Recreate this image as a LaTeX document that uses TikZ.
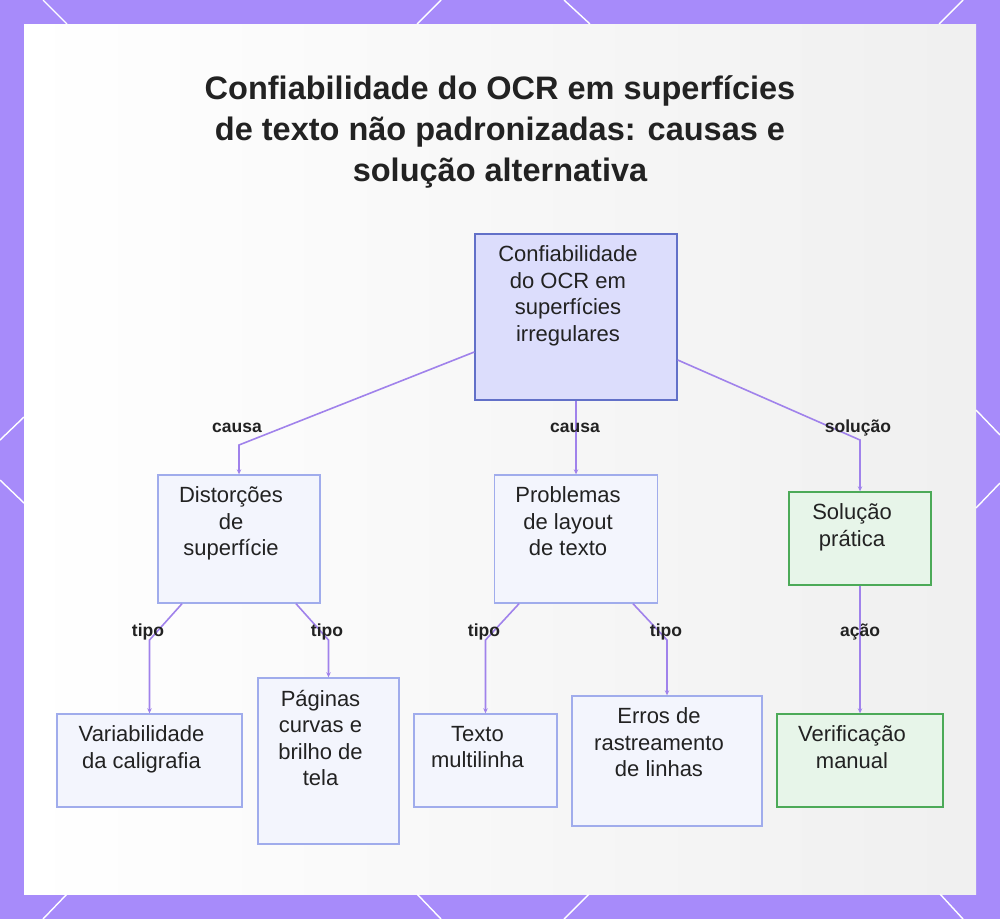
\documentclass[tikz,border=0pt]{standalone}
\usepackage{fontspec}
\setmainfont{Liberation Sans}
\usetikzlibrary{arrows.meta,positioning}

\definecolor{framepurple}{RGB}{167,139,250}
\definecolor{linkpurple}{RGB}{160,130,235}
\definecolor{rootfill}{RGB}{220,221,252}
\definecolor{rootedge}{RGB}{98,112,200}
\definecolor{leaffill}{RGB}{243,245,253}
\definecolor{leafedge}{RGB}{160,172,236}
\definecolor{greenfill}{RGB}{231,245,233}
\definecolor{greenedge}{RGB}{76,170,88}
\definecolor{ink}{RGB}{34,34,34}

% text block of a box: width, height, lines
\newcommand{\boxlines}[3]{\parbox[c][#2][t]{#1}{\centering\rightskip=16pt plus 1fil\vspace*{12pt}#3\par}}

\begin{document}
\begin{tikzpicture}[x=1pt,y=-1pt,
    conn/.style={draw=linkpurple,line width=1.6pt,-{Stealth[length=5pt,width=4.5pt]}},
    rootbox/.style={draw=rootedge,fill=rootfill,line width=1.4pt,inner sep=0pt,
      text=ink,font=\fontsize{22}{26.5}\selectfont},
    leafbox/.style={rootbox,draw=leafedge,fill=leaffill},
    greenbox/.style={rootbox,draw=greenedge,fill=greenfill},
    lbl/.style={text=ink,font=\bfseries\fontsize{17.5}{20}\selectfont},
    title/.style={text=ink,align=center,font=\bfseries\fontsize{32.5}{41}\selectfont},
    deco/.style={draw=white,line width=1.4pt}]

  \useasboundingbox (0,0) rectangle (1000,919);
  \fill[framepurple] (0,0) rectangle (1000,919);
  \shade[left color=white,right color=black!6] (24,24) rectangle (976,894);

  % frame marks
  \draw[deco] (43,0) -- (67,24);
  \draw[deco] (441,0) -- (417,24);
  \draw[deco] (564,0) -- (590,24);
  \draw[deco] (963,0) -- (939,24);
  \draw[deco] (0,440) -- (24,417);
  \draw[deco] (0,480) -- (24,503);
  \draw[deco] (976,410) -- (1000,435);
  \draw[deco] (976,508) -- (1000,483);
  \draw[deco] (67,894) -- (43,919);
  \draw[deco] (417,894) -- (441,919);
  \draw[deco] (589,894) -- (564,919);
  \draw[deco] (940,894) -- (963,919);

  \node[title] (title) at (500,132) {Confiabilidade do OCR em superfícies\\de texto não padronizadas: causas e\\solução alternativa};

  % boxes
  \node[rootbox]  (root) at (576,317)   {\boxlines{202pt}{166pt}{Confiabilidade\\do OCR em\\superfícies\\irregulares}};
  \node[leafbox]  (dist) at (239,539)   {\boxlines{162pt}{128pt}{Distorções\\de\\superfície}};
  \node[leafbox]  (prob) at (576,539)   {\boxlines{163pt}{128pt}{Problemas\\de layout\\de texto}};
  \node[greenbox] (sol)  at (860,538.5) {\boxlines{142pt}{93pt}{Solução\\prática}};
  \node[leafbox]  (var)  at (149.5,760.5) {\boxlines{185pt}{93pt}{Variabilidade\\da caligrafia}};
  \node[leafbox]  (pag)  at (328.5,761) {\boxlines{141pt}{166pt}{Páginas\\curvas e\\brilho de\\tela}};
  \node[leafbox]  (txt)  at (485.5,760.5) {\boxlines{143pt}{93pt}{Texto\\multilinha}};
  \node[leafbox]  (err)  at (667,761)   {\boxlines{190pt}{130pt}{Erros de\\rastreamento\\de linhas}};
  \node[greenbox] (ver)  at (860,760.5) {\boxlines{166pt}{93pt}{Verificação\\manual}};

  % bends
  \coordinate (b1) at (239,445);
  \coordinate (b3) at (860,440);
  \coordinate (b4) at (149.5,640);
  \coordinate (b5) at (328.5,640);
  \coordinate (b6) at (485.5,640);
  \coordinate (b7) at (667,640);

  \draw[conn] ([yshift=-35pt]root.west) -- (b1) -- (dist);
  \draw[conn] (root) -- (prob);
  \draw[conn] ([yshift=-43pt]root.east) -- (b3) -- (sol);
  \draw[conn] ([xshift=-57pt]dist.south) -- (b4) -- (var);
  \draw[conn] ([xshift=57pt]dist.south) -- (b5) -- (pag);
  \draw[conn] ([xshift=-57pt]prob.south) -- (b6) -- (txt);
  \draw[conn] ([xshift=57pt]prob.south) -- (b7) -- (err);
  \draw[conn] (sol) -- (ver);

  % labels
  \node[lbl] (l1) at (237,428) {causa};
  \node[lbl] (l2) at (575,428) {causa};
  \node[lbl] (l3) at (858,428) {solução};
  \node[lbl] (l4) at (148,632) {tipo};
  \node[lbl] (l5) at (327,632) {tipo};
  \node[lbl] (l6) at (484,632) {tipo};
  \node[lbl] (l7) at (666,632) {tipo};
  \node[lbl] (l8) at (860,632) {ação};
\end{tikzpicture}
\end{document}
